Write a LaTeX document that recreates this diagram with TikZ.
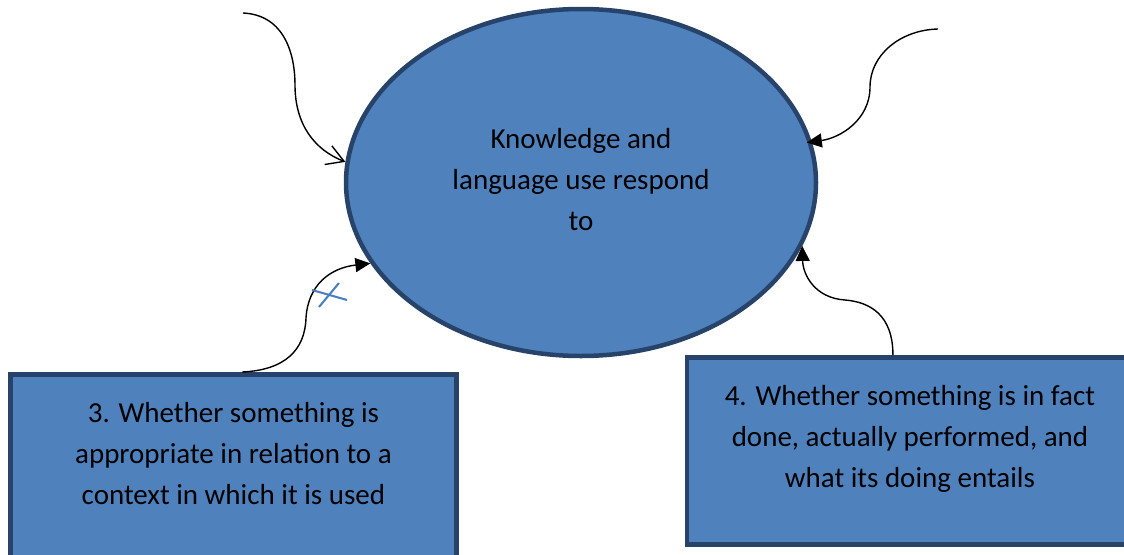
\documentclass[tikz,border=0pt]{standalone}
\usepackage{fontspec}
\setmainfont{Carlito}
\usetikzlibrary{arrows.meta,shapes.geometric}
\definecolor{shapefill}{HTML}{4F81BD}
\definecolor{shapeedge}{HTML}{27436A}
\definecolor{markblue}{HTML}{4A7EC0}
\begin{document}
\begin{tikzpicture}[x=1pt,y=-1pt,
  every node/.style={font=\fontsize{29}{41}\selectfont},
  bubble/.style={ellipse, draw=shapeedge, fill=shapefill, line width=4.5pt,
    minimum width=470pt, minimum height=347pt, inner sep=0pt, align=flush center,
    text height=95pt, text depth=0pt},
  textbox/.style={rectangle, draw=shapeedge, fill=shapefill, line width=4.5pt,
    anchor=north west, inner sep=0pt, text width=446pt, align=flush center,
    text height=48pt},
  conn/.style={black, line width=1.4pt},
  filledtip/.style={-{Triangle[length=15pt,width=14pt]}},
  opentip/.style={-{Straight Barb[length=17pt,width=20pt]}},
  tick/.style={markblue, line width=2pt}]
\useasboundingbox (0,0) rectangle (1124,554);
\clip (0,0) rectangle (1124,554);

% central ellipse
\node[bubble] (ell) at (581,182.5) {Knowledge and\\language use respond\\to};

% lower boxes
\node[textbox, text depth=200pt] (b3) at (8.2,372)
  {3. Whether something is\\appropriate in relation to a\\context in which it is used};
\node[textbox, text depth=139pt] (b4) at (684.7,355.2)
  {4. Whether something is in fact\\done, actually performed, and\\what its doing entails};

% free ends of the upper connectors
\coordinate (s1) at (243,13);
\coordinate (s2) at (938,29);

% connectors
\draw[conn, opentip] (s1) .. controls (285,15) and (295,55) .. (295,85)
  .. controls (295,125) and (315,150) .. (ell.175);
\draw[conn, filledtip, shorten >=-5pt] (s2) .. controls (900,30) and (870,55) .. (870,87)
  .. controls (870,120) and (840,138) .. (ell.10);
\draw[conn, filledtip] ([xshift=9pt]b3.north) .. controls (285,370) and (305,350) .. (306,318)
  .. controls (308,285) and (330,268) .. (ell.201);
\draw[conn, filledtip] ([xshift=-17pt]b4.north) .. controls (893,315) and (870,302) .. (845,300)
  .. controls (815,298) and (803,275) .. (ell.-16);

% small hand-drawn cross beside the lower-left connector
\draw[tick] (312,290) -- (347,300);
\draw[tick] (339,283) -- (319,307);
\end{tikzpicture}
\end{document}
